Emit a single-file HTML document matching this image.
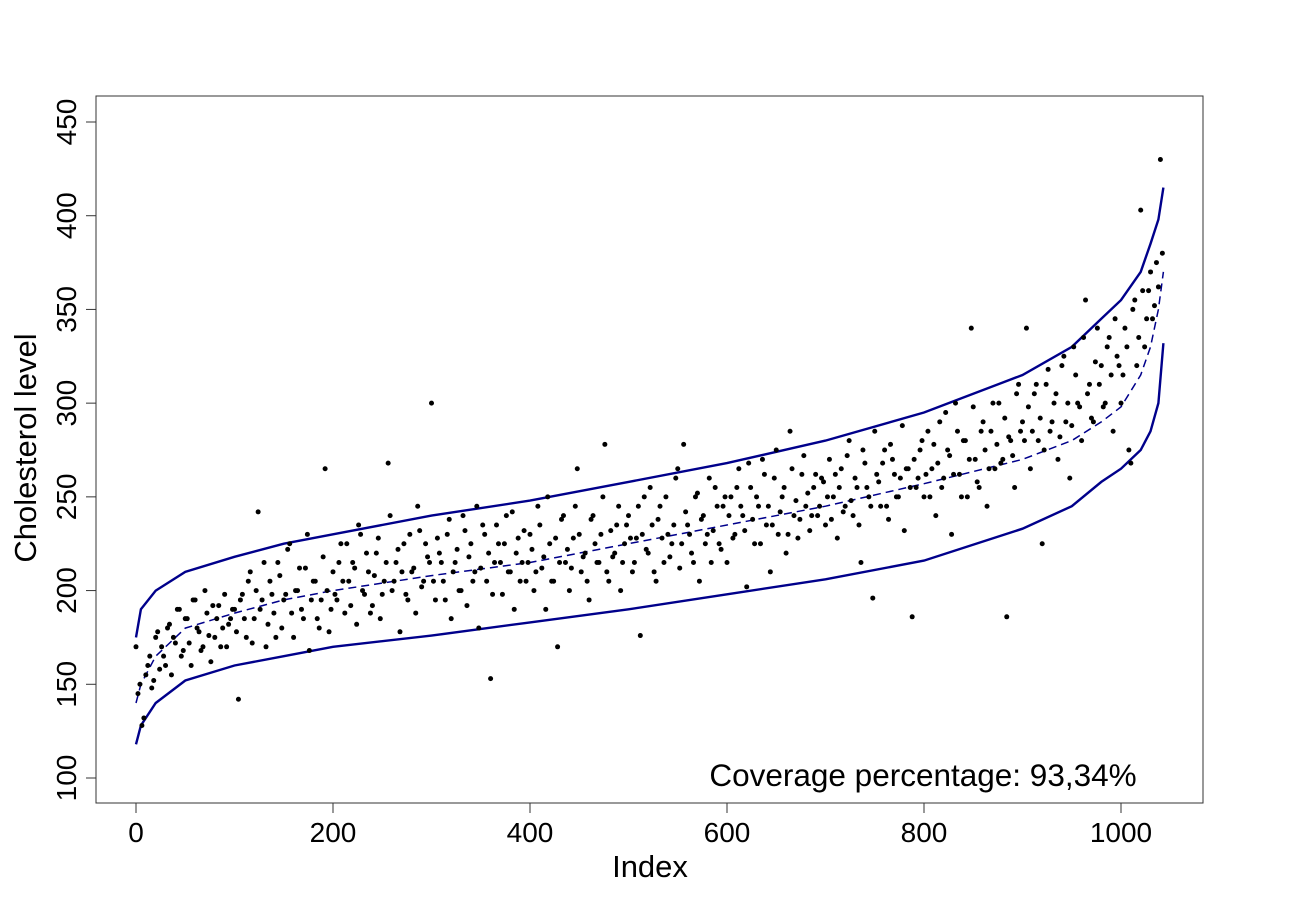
<!DOCTYPE html>
<html><head><meta charset="utf-8"><style>
html,body{margin:0;padding:0;background:#fff;}
svg{display:block;font-family:"Liberation Sans",sans-serif;}
</style></head><body>
<svg id="chart" width="1300" height="900">
<rect x="96" y="96" width="1107" height="707" fill="none" stroke="#333" stroke-width="1"/>
<g id="axes"></g><g id="lines"></g><g id="pts"></g>
<text x="650" y="877" font-size="31" text-anchor="middle">Index</text>
<text transform="translate(36,448) rotate(-90)" font-size="31" text-anchor="middle">Cholesterol level</text>
<text x="923" y="786" font-size="31.5" text-anchor="middle">Coverage percentage: 93,34%</text>
</svg>
<script>
const xTicks=[0,200,400,600,800,1000];
const yTicks=[100,150,200,250,300,350,400,450];
const knots=[0,5,20,50,100,150,200,300,400,500,600,700,800,900,950,980,1000,1020,1030,1038,1043];
const centerVals=[140,150,165,180,188,195,200,208,215,225,235,245,257,270,280,290,298,315,330,350,370];
const upperVals=[175,190,200,210,218,225,230,240,248,258,268,280,295,315,330,345,355,370,385,398,415];
const lowerVals=[118,128,140,152,160,165,170,176,183,190,198,206,216,233,245,258,265,275,285,300,332];
const ptStep=4;
const ptVals=[170,150,132,160,148,175,158,165,180,155,172,190,168,185,160,195,178,170,188,162,175,192,180,170,185,
190,142,198,175,210,185,242,195,170,205,188,215,180,198,225,175,200,190,212,168,205,185,195,265,178,
210,195,225,188,205,215,182,230,198,210,192,220,185,205,268,200,215,178,225,195,210,188,232,205,218,
300,195,220,205,230,185,215,200,240,192,225,210,180,235,205,153,215,225,198,240,210,190,228,215,205,
230,200,245,212,190,225,205,170,238,215,200,228,265,210,220,195,240,215,230,278,205,218,235,200,225,
240,210,228,176,250,220,235,205,245,215,230,225,260,212,278,235,220,250,205,240,230,215,255,225,245,
215,250,230,265,240,202,255,225,245,270,235,210,260,230,250,220,285,240,228,262,245,232,255,240,260,
235,270,250,228,265,245,280,240,255,215,268,250,196,262,245,275,238,270,250,260,232,265,186,255,275,
250,285,265,240,290,260,275,230,300,262,280,250,340,270,255,290,245,285,265,300,270,186,280,255,310,
290,340,265,305,280,225,310,285,300,270,320,290,260,330,300,280,355,310,290,340,320,300,335,285,325,
300,340,275,350,320,403,330,360,345,375,430];
const ptVals2=[145,128,155,165,152,178,170,160,182,175,190,165,185,172,195,180,168,200,176,192,185,170,198,182,190,
178,195,185,205,172,200,190,215,182,198,175,208,195,222,188,200,212,185,230,195,205,180,218,200,190,
198,215,205,225,192,212,235,200,220,188,208,228,198,215,240,205,222,210,198,230,212,245,202,225,215,
205,228,215,195,238,210,222,200,232,218,205,245,212,230,220,198,235,215,225,210,242,220,205,232,215,
222,210,235,218,250,205,228,215,240,222,212,245,230,218,205,238,225,215,250,210,232,220,245,215,235,
228,215,245,230,222,255,210,238,228,250,218,235,265,225,242,230,215,252,238,225,260,232,245,222,250,
240,228,255,245,232,268,238,250,225,262,245,235,275,242,255,230,265,248,238,272,252,240,262,245,258,
250,238,262,255,242,272,248,260,235,275,255,245,285,258,268,245,278,262,250,288,265,255,270,260,280,
262,250,278,268,255,295,272,262,285,250,280,270,298,258,285,275,265,300,278,268,292,282,272,305,285,
280,298,285,310,292,275,318,290,305,282,325,300,288,315,298,335,305,292,322,310,298,330,315,345,320,
315,330,268,355,335,360,345,370,352,362,380];
const X=v=>136+v*0.985, Y=v=>778-(v-100)*656/350;
const NS="http://www.w3.org/2000/svg";
function mk(t,a,p){const e=document.createElementNS(NS,t);for(const k in a)e.setAttribute(k,a[k]);p.appendChild(e);return e;}
const ax=document.getElementById('axes');
mk('line',{x1:X(0),x2:X(1000),y1:803,y2:803,stroke:'#333'},ax);
xTicks.forEach(t=>{mk('line',{x1:X(t),x2:X(t),y1:803,y2:813,stroke:'#333'},ax);
const tx=mk('text',{x:X(t),y:842,'font-size':28,'text-anchor':'middle'},ax);tx.textContent=t;

});
mk('line',{x1:96,x2:96,y1:Y(100),y2:Y(450),stroke:'#333'},ax);
yTicks.forEach(t=>{mk('line',{x1:86,x2:96,y1:Y(t),y2:Y(t),stroke:'#333'},ax);
const tx=mk('text',{transform:`translate(76,${Y(t)}) rotate(-90)`,'font-size':28,'text-anchor':'middle'},ax);tx.textContent=t;

});
const ln=document.getElementById('lines');
function path(vals,dash,name){const d=knots.map((k,i)=>(i?'L':'M')+X(k).toFixed(1)+','+Y(vals[i]).toFixed(1)).join('');
const p=mk('path',{d,fill:'none',stroke:'#00008B','stroke-width':dash?1.5:2.4},ln);if(dash)p.setAttribute('stroke-dasharray','8,5');

}
path(upperVals,false,'upper-band');path(lowerVals,false,'lower-band');path(centerVals,true,'fitted-line');
const pg=document.getElementById('pts');
ptVals.forEach((v,i)=>{const c=mk('circle',{cx:X(i*ptStep),cy:Y(v),r:2.5,fill:'#000'},pg);

});
ptVals2.forEach((v,i)=>{const c=mk('circle',{cx:X(i*ptStep+2),cy:Y(v),r:2.5,fill:'#000'},pg);

});
</script>
</body></html>
